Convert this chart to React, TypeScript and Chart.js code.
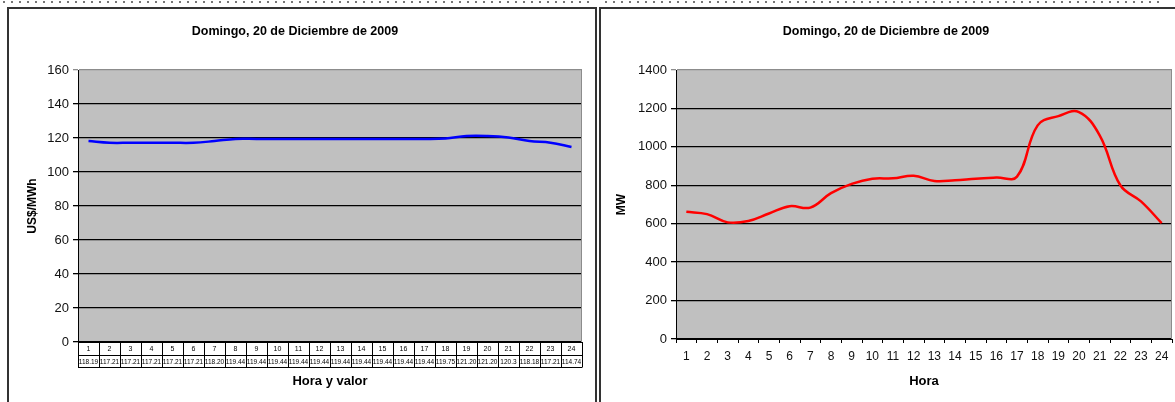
import { useEffect, useRef } from 'react';
import { Chart, registerables } from 'chart.js';

Chart.register(...registerables);

// Datos del día
const TITLE = 'Domingo, 20 de Diciembre de 2009';
const HOURS = ['1', '2', '3', '4', '5', '6', '7', '8', '9', '10', '11', '12',
  '13', '14', '15', '16', '17', '18', '19', '20', '21', '22', '23', '24'];
const PRICE_LABELS = ['118.19', '117.21', '117.21', '117.21', '117.21', '117.21', '118.20', '119.44',
  '119.44', '119.44', '119.44', '119.44', '119.44', '119.44', '119.44', '119.44',
  '119.44', '119.75', '121.20', '121.20', '120.3', '118.18', '117.21', '114.74'];
const PRICES = [118.19, 117.21, 117.21, 117.21, 117.21, 117.21, 118.2, 119.44,
  119.44, 119.44, 119.44, 119.44, 119.44, 119.44, 119.44, 119.44,
  119.44, 119.75, 121.2, 121.2, 120.3, 118.18, 117.21, 114.74];
const DEMAND = [662, 650, 607, 614, 653, 691, 684, 759, 807, 834, 836, 850,
  822, 826, 834, 840, 845, 1112, 1160, 1181, 1060, 800, 716, 603];

const FONT = "'Liberation Sans', Arial, sans-serif";

// fondo gris del área de trazado
const plotBg = {
  id: 'plotBg',
  beforeDraw(chart: any) {
    const { ctx, chartArea: a } = chart;
    ctx.save();
    ctx.fillStyle = '#c0c0c0';
    ctx.fillRect(a.left, a.top, a.width, a.height);
    ctx.restore();
  },
  beforeDatasetsDraw(chart: any) {
    const { ctx, chartArea: a } = chart;
    ctx.save();
    ctx.strokeStyle = '#8c8c8c';
    ctx.lineWidth = 1;
    ctx.beginPath();
    ctx.moveTo(a.right - 0.5, a.top);
    ctx.lineTo(a.right - 0.5, a.bottom);
    ctx.stroke();
    ctx.restore();
  },
};

// tabla de horas y valores bajo el eje
const valueTable = {
  id: 'valueTable',
  afterDraw(chart: any) {
    const { ctx, chartArea: a, scales } = chart;
    const x = scales.x;
    const colW = x.getPixelForValue(1) - x.getPixelForValue(0);
    const top = a.bottom + 0.5;
    const mid = a.bottom + 13.5;
    const bot = a.bottom + 25.5;
    ctx.save();
    ctx.strokeStyle = '#000';
    ctx.lineWidth = 1;
    ctx.beginPath();
    [top, mid, bot].forEach(y => {
      ctx.moveTo(a.left, y);
      ctx.lineTo(a.right, y);
    });
    for (let i = 0; i <= HOURS.length; i++) {
      const bx = Math.round(x.getPixelForValue(i) - colW / 2) + 0.5;
      ctx.moveTo(bx, top);
      ctx.lineTo(bx, bot);
    }
    ctx.stroke();
    ctx.fillStyle = '#000';
    ctx.textAlign = 'center';
    ctx.textBaseline = 'middle';
    HOURS.forEach((h, i) => {
      const cx = x.getPixelForValue(i);
      ctx.font = `7px ${FONT}`;
      ctx.fillText(h, cx, (top + mid) / 2);
      ctx.font = `6.5px ${FONT}`;
      ctx.fillText(PRICE_LABELS[i], cx, (mid + bot) / 2 + 0.5, colW - 1);
    });
    ctx.restore();
  },
};

const titleOpts = {
  display: true,
  text: TITLE,
  color: '#000',
  font: { family: FONT, size: 12.5, weight: 'bold' as const },
  padding: { top: 16, bottom: 31 },
};

const plainTick = (v: any) => String(v);

function PriceChart() {
  const canvasRef = useRef<HTMLCanvasElement>(null);
  useEffect(() => {
    if (!canvasRef.current) return;
    const chart = new Chart(canvasRef.current, {
      type: 'line',
      data: {
        labels: HOURS,
        datasets: [{
          data: PRICES,
          borderColor: '#0000ff',
          borderWidth: 2.5,
          pointRadius: 0,
          tension: 0.4,
          fill: false,
        }],
      },
      options: {
        animation: false,
        responsive: true,
        maintainAspectRatio: false,
        layout: { padding: { left: 0, right: 12, top: 0, bottom: 0 } },
        plugins: {
          legend: { display: false },
          tooltip: { enabled: false },
          title: titleOpts,
        },
        scales: {
          x: {
            offset: true,
            grid: { display: false },
            ticks: { display: false },
            border: { color: '#000' },
            title: {
              display: true,
              text: 'Hora y valor',
              color: '#000',
              font: { family: FONT, size: 13, weight: 'bold' },
              padding: { top: 0, bottom: 13 },
            },
            afterFit: (s: any) => { s.height = 60; },
          },
          y: {
            min: 0,
            max: 160,
            ticks: { stepSize: 20, color: '#111', font: { family: FONT, size: 13 }, padding: 4, callback: plainTick },
            grid: {
              color: (c: any) => (c.tick && c.tick.value === 160 ? '#8c8c8c' : '#000'),
              lineWidth: 1.3,
              tickLength: 5,
            },
            border: { color: '#000' },
            title: {
              display: true,
              text: 'US$/MWh',
              color: '#000',
              font: { family: FONT, size: 12, weight: 'bold' },
              padding: { top: 17, bottom: 0 },
            },
            afterFit: (s: any) => { s.width = 70; },
          },
        },
      },
      plugins: [plotBg, valueTable],
    });
    return () => chart.destroy();
  }, []);
  return <canvas ref={canvasRef} />;
}

function DemandChart() {
  const canvasRef = useRef<HTMLCanvasElement>(null);
  useEffect(() => {
    if (!canvasRef.current) return;
    const chart = new Chart(canvasRef.current, {
      type: 'line',
      data: {
        labels: HOURS,
        datasets: [{
          data: DEMAND,
          borderColor: '#ff0000',
          borderWidth: 2.5,
          pointRadius: 0,
          tension: 0.4,
          fill: false,
        }],
      },
      options: {
        animation: false,
        responsive: true,
        maintainAspectRatio: false,
        layout: { padding: { left: 0, right: 3, top: 0, bottom: 0 } },
        plugins: {
          legend: { display: false },
          tooltip: { enabled: false },
          title: titleOpts,
        },
        scales: {
          x: {
            offset: true,
            grid: { offset: true, drawOnChartArea: false, color: '#000', tickLength: 4 },
            ticks: { color: '#111', font: { family: FONT, size: 12 }, padding: 6, autoSkip: false, maxRotation: 0 },
            border: { color: '#000' },
            title: {
              display: true,
              text: 'Hora',
              color: '#000',
              font: { family: FONT, size: 13, weight: 'bold' },
              padding: { top: 0, bottom: 13 },
            },
            afterFit: (s: any) => { s.height = 63; },
          },
          y: {
            min: 0,
            max: 1400,
            ticks: { stepSize: 200, color: '#111', font: { family: FONT, size: 13 }, padding: 4, callback: plainTick },
            grid: {
              color: (c: any) => (c.tick && c.tick.value === 1400 ? '#8c8c8c' : '#000'),
              lineWidth: 1.3,
              tickLength: 5,
            },
            border: { color: '#000' },
            title: {
              display: true,
              text: 'MW',
              color: '#000',
              font: { family: FONT, size: 12, weight: 'bold' },
              padding: { top: 14, bottom: 0 },
            },
            afterFit: (s: any) => { s.width = 76; },
          },
        },
      },
      plugins: [plotBg],
    });
    return () => chart.destroy();
  }, []);
  return <canvas ref={canvasRef} />;
}

const dots = (left: number, width: number) => ({
  position: 'absolute' as const,
  left,
  top: 1,
  width,
  height: 2,
  background: 'repeating-linear-gradient(to right, #777 0 2px, transparent 2px 8px)',
});

export default function App() {
  return (
    <div style={{ position: 'absolute', left: 0, top: 0, width: 1175, height: 402, overflow: 'hidden', background: '#fff' }}>
      <div style={dots(3, 588)} />
      <div style={dots(605, 555)} />
      <div style={{ position: 'absolute', left: 7, top: 7, width: 586, height: 420, borderLeft: '2px solid #333', borderTop: '2px solid #333', borderRight: '2px solid #333' }} />
      <div style={{ position: 'absolute', left: 599, top: 7, width: 600, height: 420, borderLeft: '2px solid #333', borderTop: '2px solid #333' }} />
      <div style={{ position: 'absolute', left: 8, top: 8, width: 586, height: 394 }}>
        <PriceChart />
      </div>
      <div style={{ position: 'absolute', left: 600, top: 8, width: 575, height: 394 }}>
        <DemandChart />
      </div>
    </div>
  );
}
